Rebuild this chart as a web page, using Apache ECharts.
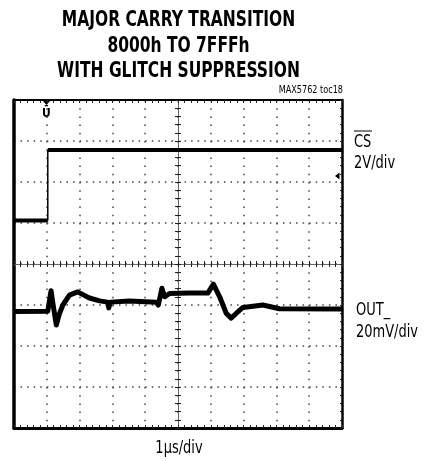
<!DOCTYPE html>
<html>
<head>
<meta charset="utf-8">
<script src="https://cdn.jsdelivr.net/npm/echarts@6/dist/echarts.min.js"></script>
<style>
  html, body { margin: 0; padding: 0; background: #fff; }
  #chart { width: 430px; height: 461px; }
</style>
</head>
<body>
<div id="chart"></div>
<script>
// scope screen: 10 x 8 divisions, centre at (0, 0)
const xMin = -5, xMax = 5
const yMin = -4, yMax = 4

// CS (2V/div)
const csLowTime = [-5, -3.97]
const csLowLevel = [1.06, 1.06]
const csEdgeTime = [-3.97, -3.97]
const csEdgeLevel = [1.06, 2.78]
const csHighTime = [-3.97, 5]
const csHighLevel = [2.78, 2.78]

// OUT_ (20mV/div)
const outTime = [-5, -3.97, -3.92, -3.87, -3.83, -3.71, -3.61, -3.51, -3.31, -3.06, -2.70, -2.39,
  -2.15, -2.11, -2.06, -1.48, -0.66, -0.60, -0.49, -0.41, -0.26, 0.35, 0.91, 1.08, 1.27,
  1.47, 1.62, 1.78, 1.98, 2.59, 3.09, 5]
const outLevel = [-1.16, -1.15, -1.16, -0.65, -0.88, -1.49, -1.20, -1.00, -0.76, -0.68, -0.83, -0.90,
  -0.93, -1.07, -0.93, -0.90, -0.93, -1.00, -0.59, -0.80, -0.72, -0.71, -0.71, -0.49, -0.80,
  -1.20, -1.32, -1.20, -1.06, -1.00, -1.09, -1.10]

const narrow = "'Liberation Sans Narrow', 'DejaVu Sans Condensed', sans-serif"

function zip(xs, ys) {
  return xs.map((x, i) => [x, ys[i]])
}

function xAxisOf(opts) {
  return Object.assign({
    type: 'value', min: xMin, max: xMax, interval: 1,
    axisLabel: { show: false },
    splitLine: { show: false },
    axisLine: { show: false, onZero: false },
    axisTick: { show: false }
  }, opts)
}

function yAxisOf(opts) {
  return Object.assign({
    type: 'value', min: yMin, max: yMax, interval: 1,
    axisLabel: { show: false },
    splitLine: { show: false },
    axisLine: { show: false, onZero: false },
    axisTick: { show: false }
  }, opts)
}

// condensed text: the installed condensed face is wider than the original, so squeeze it
function label(text, x, y, font, align, sx) {
  return {
    type: 'text', x: x, y: y, scaleX: sx,
    style: { text: text, font: font, fill: '#000', align: align, verticalAlign: 'middle' }
  }
}

const tickStyle = { color: '#222', width: 1 }

const chart = echarts.init(document.getElementById('chart'))

chart.setOption({
  animation: false,
  backgroundColor: '#fff',
  grid: { left: 14, top: 100, width: 328, height: 328 },
  xAxis: [
    // bottom frame
    xAxisOf({
      position: 'bottom',
      axisLine: { show: true, onZero: false, lineStyle: { color: '#000', width: 3 } },
      axisTick: { show: true, inside: true, length: 3, lineStyle: tickStyle },
      minorTick: { show: true, splitNumber: 5, length: 3, lineStyle: tickStyle },
      splitLine: { show: true, lineStyle: { color: '#444', width: 1.5, type: [1.5, 6.7] } }
    }),
    // top frame
    xAxisOf({
      position: 'top',
      axisLine: { show: true, onZero: false, lineStyle: { color: '#000', width: 2 } },
      axisTick: { show: true, inside: true, length: 3, lineStyle: tickStyle },
      minorTick: { show: true, splitNumber: 5, length: 3, lineStyle: tickStyle }
    }),
    // centre line with ticks on both sides
    xAxisOf({
      position: 'bottom',
      axisLine: { show: true, onZero: true, onZeroAxisIndex: 0, lineStyle: { color: '#666', width: 1 } },
      axisTick: { show: true, inside: true, length: 3, lineStyle: tickStyle },
      minorTick: { show: true, splitNumber: 5, length: 3, lineStyle: tickStyle }
    }),
    xAxisOf({
      position: 'top',
      axisLine: { show: false, onZero: true, onZeroAxisIndex: 0 },
      axisTick: { show: true, inside: true, length: 3, lineStyle: tickStyle },
      minorTick: { show: true, splitNumber: 5, length: 3, lineStyle: tickStyle }
    })
  ],
  yAxis: [
    // left frame
    yAxisOf({
      position: 'left',
      axisLine: { show: true, onZero: false, lineStyle: { color: '#000', width: 3.5 } },
      splitLine: { show: true, lineStyle: { color: '#444', width: 1.5, type: [1.5, 5.06] } }
    }),
    // right frame
    yAxisOf({
      position: 'right',
      axisLine: { show: true, onZero: false, lineStyle: { color: '#000', width: 2.5 } },
      axisTick: { show: true, inside: true, length: 2, lineStyle: tickStyle },
      minorTick: { show: true, splitNumber: 5, length: 2, lineStyle: tickStyle }
    }),
    // centre line with ticks on both sides
    yAxisOf({
      position: 'left',
      axisLine: { show: true, onZero: true, onZeroAxisIndex: 0, lineStyle: { color: '#666', width: 1 } },
      axisTick: { show: true, inside: true, length: 3, lineStyle: tickStyle },
      minorTick: { show: true, splitNumber: 5, length: 3, lineStyle: tickStyle }
    }),
    yAxisOf({
      position: 'right',
      axisLine: { show: false, onZero: true, onZeroAxisIndex: 0 },
      axisTick: { show: true, inside: true, length: 3, lineStyle: tickStyle },
      minorTick: { show: true, splitNumber: 5, length: 3, lineStyle: tickStyle }
    })
  ],
  series: [
    {
      name: 'CS low', type: 'line', symbol: 'none', data: zip(csLowTime, csLowLevel),
      lineStyle: { color: '#000', width: 4 }, z: 5
    },
    {
      name: 'CS edge', type: 'line', symbol: 'none', data: zip(csEdgeTime, csEdgeLevel),
      lineStyle: { color: '#000', width: 1.5 }, z: 5
    },
    {
      name: 'CS high', type: 'line', symbol: 'none', data: zip(csHighTime, csHighLevel),
      lineStyle: { color: '#000', width: 4 }, z: 5
    },
    {
      name: 'OUT_', type: 'line', symbol: 'none', data: zip(outTime, outLevel),
      lineStyle: { color: '#000', width: 5, join: 'round' }, z: 5
    }
  ],
  graphic: [
    label('MAJOR CARRY TRANSITION', 178.5, 21, 'bold 21px ' + narrow, 'center', 0.82),
    label('8000h TO 7FFFh', 178.5, 47, 'bold 21px ' + narrow, 'center', 0.82),
    label('WITH GLITCH SUPPRESSION', 178.5, 72, 'bold 21px ' + narrow, 'center', 0.82),
    label('MAX5762 toc18', 343, 90, '11px ' + narrow, 'right', 0.82),
    label('CS', 354, 142.5, '17px ' + narrow, 'left', 0.85),
    { type: 'line', shape: { x1: 354, y1: 131, x2: 372, y2: 131 }, style: { stroke: '#000', lineWidth: 1 } },
    label('2V/div', 354, 164, '17px ' + narrow, 'left', 0.85),
    label('OUT_', 356, 310.5, '17px ' + narrow, 'left', 0.85),
    label('20mV/div', 356, 333, '17px ' + narrow, 'left', 0.85),
    label('1\u00b5s/div', 179, 449, '17px ' + narrow, 'center', 0.85),
    // trigger marker
    { type: 'polygon', shape: { points: [[43, 101], [50, 101], [46.5, 105]] }, style: { fill: '#000' } },
    label('\u016a', 46.5, 114, 'bold 12px ' + narrow, 'center', 1),
    // channel ground marker
    { type: 'polygon', shape: { points: [[335, 176], [339.5, 172.5], [339.5, 179.5]] }, style: { fill: '#000' } }
  ]
})
</script>
</body>
</html>
